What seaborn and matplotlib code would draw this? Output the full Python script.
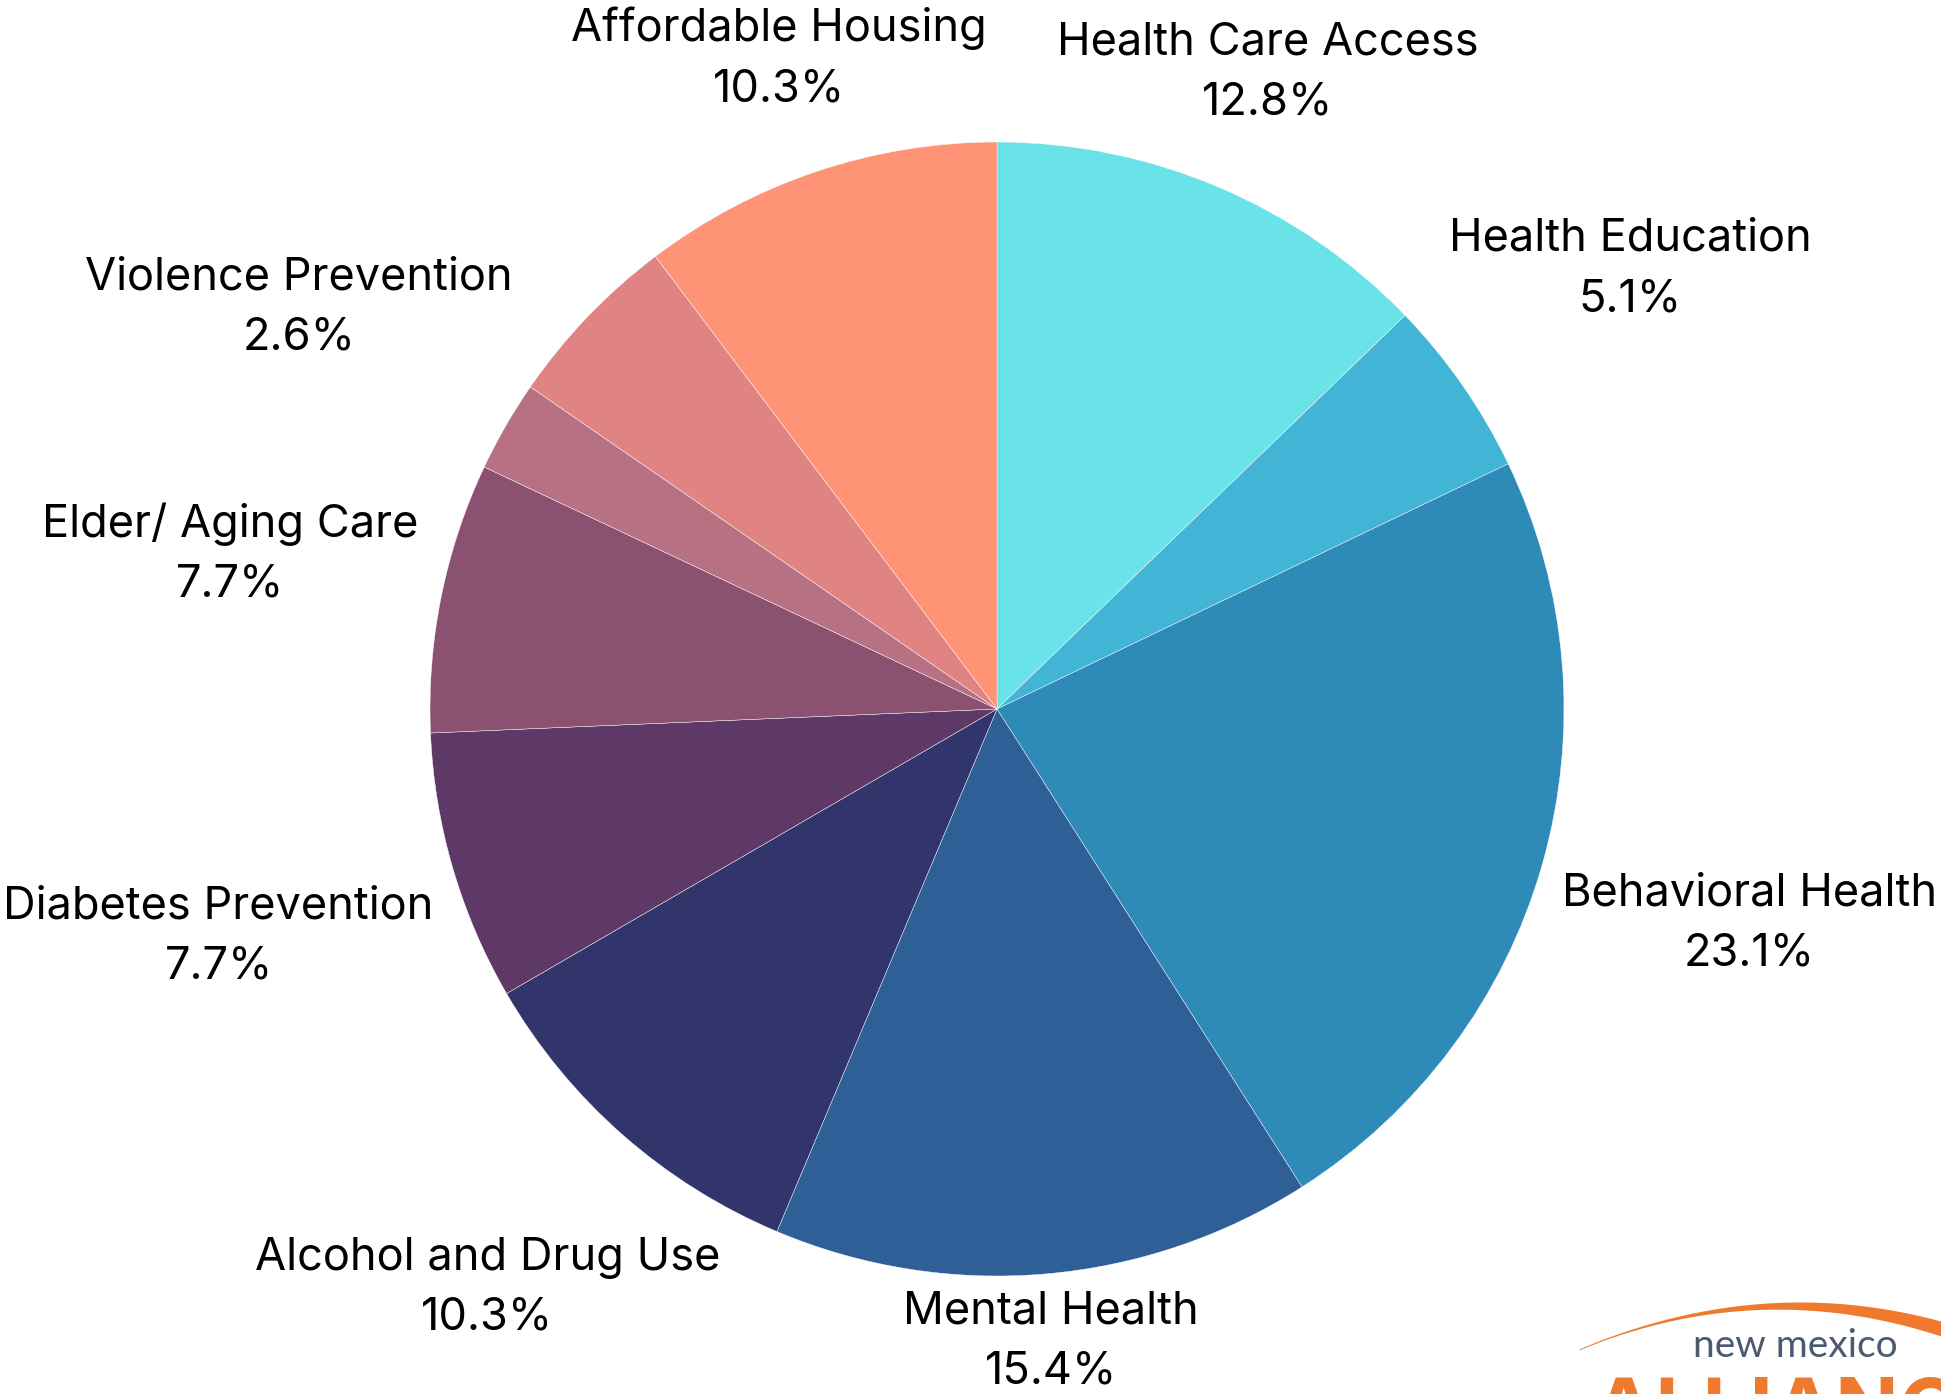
import numpy as np
import matplotlib
matplotlib.use("Agg")
import matplotlib.pyplot as plt
import seaborn as sns

# ---------------------------------------
# Data (clockwise from 12 o'clock)
# ---------------------------------------
categories = ["Health Care Access", "Health Education", "Behavioral Health",
              "Mental Health", "Alcohol and Drug Use", "Diabetes Prevention",
              "Elder/ Aging Care", "Violence Prevention", "Other",
              "Affordable Housing"]
percents = [12.8, 5.1, 23.1, 15.4, 10.3, 7.7, 7.7, 2.6, 5.1, 10.3]
show_label = [True, True, True, True, True, True, True, True, False, True]
colors = ["#6AE3E8", "#42B5D6", "#2E8BB8", "#2E5F97", "#32356B",
          "#5E3866", "#8A5270", "#B87083", "#E08383", "#FF9375"]
# how far each label sits from the centre, in pie radii
label_dist = [1.22, 1.36, 1.38, 1.12, 1.36, 1.43, 1.38, 1.42, 1.3, 1.21]

# ---------------------------------------
# Figure
# ---------------------------------------
sns.set_theme(style="white")
plt.rcParams["font.family"] = ["Inter", "DejaVu Sans"]

W, H = 1941, 1394
fig = plt.figure(figsize=(W / 100, H / 100), dpi=100)
ax = fig.add_axes([0, 0, 1, 1])

cx, cy, r = 997, H - 709, 567
wedges, _ = ax.pie(percents, colors=colors, startangle=90, counterclock=False,
                   center=(cx, cy), radius=r, frame=True,
                   wedgeprops=dict(edgecolor="white", linewidth=0.3))
ax.set_xlim(0, W)
ax.set_ylim(0, H)
ax.set_aspect("equal")
ax.axis("off")

for w, name, pct, show, d in zip(wedges, categories, percents, show_label, label_dist):
    if not show:
        continue
    mid = np.deg2rad((w.theta1 + w.theta2) / 2)
    x = cx + d * r * np.cos(mid)
    y = cy + d * r * np.sin(mid)
    ax.text(x, y, f"{name}\n{pct:.1f}%", ha="center", va="center",
            fontsize=32.5, color="black", linespacing=1.55)

# ---------------------------------------
# Logo in the corner (cut off by the edge)
# ---------------------------------------
xs = np.linspace(1579, W, 200)
top = 1302 + 0.00096 * (xs - 1800) ** 2
thick = 1 + 14 * ((xs - 1579) / (W - 1579)) ** 1.5
ax.fill_between(xs, H - top, H - (top + thick), color="#EF7A2E", lw=0)
ax.text(1795, H - 1357, "new mexico", ha="center", va="baseline",
        fontsize=28, color="#4A5A70", family=["Lato", "DejaVu Sans"])
ax.text(1593, H - 1377, "ALLIANCE", ha="left", va="top", fontsize=60,
        fontweight="bold", color="#EF7A2E")

fig.savefig("out.png", dpi=100)
